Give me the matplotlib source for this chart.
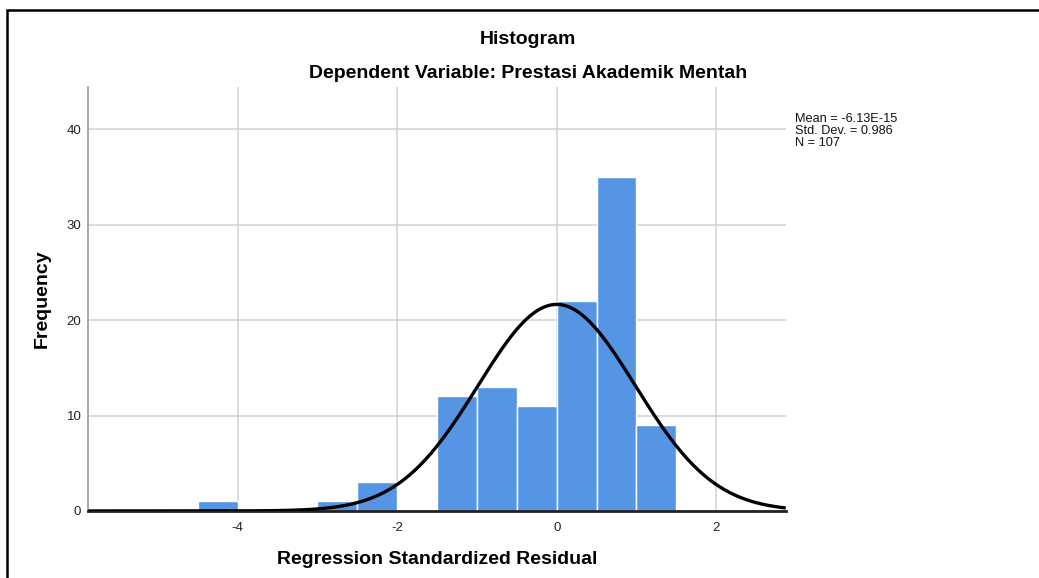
#!/usr/bin/env python3
"""SPSS-style histogram of regression standardized residuals."""

import matplotlib

matplotlib.use("Agg")
import matplotlib.pyplot as plt
import numpy as np
from matplotlib.patches import Rectangle

# bin left edges (width 0.5) and counts
bin_lefts = [-4.5, -3.0, -2.5, -1.5, -1.0, -0.5, 0.0, 0.5, 1.0]
counts = [1, 1, 3, 12, 13, 11, 22, 35, 9]
bin_width = 0.5

resid_mean = -6.13e-15
resid_sd = 0.986
n_obs = 107

x_ticks = [-4, -2, 0, 2]
y_ticks = [0, 10, 20, 30, 40]

BAR_COLOR = "#5595e4"
GRID_COLOR = "#d2d2d2"

plt.rcParams["font.family"] = ["Liberation Sans", "DejaVu Sans"]
plt.rcParams["axes.unicode_minus"] = False

fig = plt.figure(figsize=(10.39, 5.78), dpi=100)
ax = fig.add_axes([0.085, 0.116, 0.6712, 0.733])

ax.bar(bin_lefts, counts, width=bin_width, align="edge", color=BAR_COLOR,
       edgecolor="white", linewidth=1.0, zorder=2)

xs = np.linspace(-5.87, 2.87, 400)
pdf = np.exp(-0.5 * ((xs - resid_mean) / resid_sd) ** 2) / (resid_sd * np.sqrt(2 * np.pi))
ax.plot(xs, n_obs * bin_width * pdf, color="black", linewidth=2.4, zorder=4,
        solid_capstyle="butt")

ax.set_xlim(-5.87, 2.87)
ax.set_ylim(0, 44.4)
ax.set_xticks(x_ticks)
ax.set_yticks(y_ticks)
ax.tick_params(length=0, labelsize=9.5, colors="#222222")
ax.tick_params(axis="x", pad=8)
ax.tick_params(axis="y", pad=5)
ax.grid(True, color=GRID_COLOR, linewidth=1.1, zorder=0)
ax.set_axisbelow(True)

for side in ("top", "right"):
    ax.spines[side].set_visible(False)
ax.spines["left"].set_color("#9a9a9a")
ax.spines["left"].set_linewidth(1.2)
ax.spines["bottom"].set_color("#222222")
ax.spines["bottom"].set_linewidth(2.0)
ax.spines["bottom"].set_zorder(3)

ax.set_xlabel("Regression Standardized Residual", fontsize=14, fontweight="bold")
ax.xaxis.set_label_coords(0.5, -0.094)
ax.set_ylabel("Frequency", fontsize=14, fontweight="bold")
ax.yaxis.set_label_coords(-0.054, 0.5)

fig.text(0.508, 0.931, "Histogram", ha="center", va="center",
         fontsize=14, fontweight="bold")
fig.text(0.508, 0.872, "Dependent Variable: Prestasi Akademik Mentah",
         ha="center", va="center", fontsize=14, fontweight="bold")

stats = f"Mean = {resid_mean:.2E}\nStd. Dev. = {resid_sd}\nN = {n_obs}"
fig.text(795 / 1039, 1 - 113 / 578, stats, ha="left", va="top",
         fontsize=9.2, linespacing=0.98, color="#111111")

# outer frame around the chart output
fig.patches.append(Rectangle((6.5 / 1039, -0.1), 1.2, 1 - 10 / 578 + 0.1,
                             transform=fig.transFigure, fill=False,
                             edgecolor="black", linewidth=1.8))

fig.savefig("out.png", dpi=100)
